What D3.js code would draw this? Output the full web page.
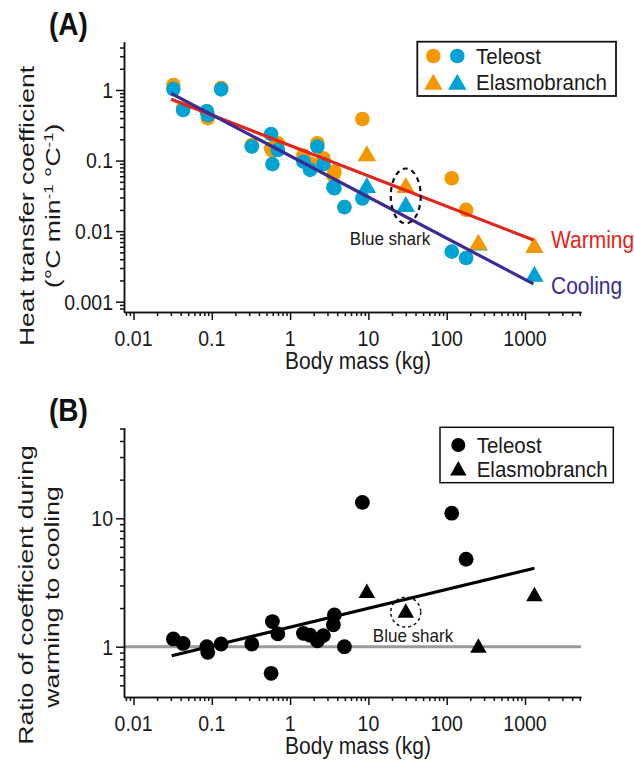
<!DOCTYPE html>
<html><head><meta charset="utf-8">
<script src="https://cdn.jsdelivr.net/npm/d3@7"></script>
<style>body{margin:0;background:#fff} svg{display:block} text{font-family:"Liberation Sans", Arial, Helvetica, sans-serif;}</style>
</head><body><svg id="c" width="634" height="761"></svg>
<script>
// ---------- data ----------
const massTeleost   = [0.0323, 0.043, 0.0863, 0.0889, 0.1315, 0.324, 0.594, 0.572, 0.697, 1.48, 1.80, 2.23, 2.66, 3.68, 3.57, 4.94, 8.38, 116, 177];
const coolTeleost   = [1.03, 0.52, 0.50, 0.44, 1.02, 0.158, 0.089, 0.238, 0.141, 0.0964, 0.0737, 0.158, 0.089, 0.0405, 0.042, 0.0219, 0.029, 0.00513, 0.00416];
const warmTeleost   = [1.18, 0.55, 0.50, 0.40, 1.07, 0.166, 0.139, 0.148, 0.175, 0.118, 0.091, 0.176, 0.108, 0.0697, 0.062, 0.022, 0.388, 0.0561, 0.020];
const ratioTeleost  = [1.15, 1.06, 1.00, 0.905, 1.05, 1.05, 1.57, 0.62, 1.26, 1.27, 1.23, 1.11, 1.22, 1.77, 1.48, 1.00, 13.3, 10.96, 4.8];
const massElasmo    = [9.55, 30.0, 254, 1319];
const warmElasmo    = [0.127, 0.045, 0.00707, 0.00637];
const coolElasmo    = [0.0451, 0.0243, 0.0069, 0.00248];
const ratioElasmo   = [2.73, 1.91, 1.02, 2.57];
const fitMassA      = [0.0302, 1280];
const fitWarm       = [0.738, 0.0075];
const fitCool       = [0.898, 0.00179];
const fitMassB      = [0.0308, 1319];
const fitRatio      = [0.851, 4.08];
const blueSharkIndex = 1;
const xTickValues   = [0.01, 0.1, 1, 10, 100, 1000];
const xTickLabels   = ["0.01", "0.1", "1", "10", "100", "1000"];
const yTickValuesA  = [1, 0.1, 0.01, 0.001];
const yTickLabelsA  = ["1", "0.1", "0.01", "0.001"];
const yTickValuesB  = [1, 10];
const yTickLabelsB  = ["1", "10"];
const legendLabels  = ["Teleost", "Elasmobranch"];

// ---------- setup ----------
const svg = d3.select("#c");
const COL = {orange:"#F39800", blue:"#00A3D3", red:"#E2261C", purple:"#3C2A95", ink:"#1a1a1a", grey:"#9a9a9a"};

function logScale(v1, p1, v2, p2, pMin, pMax){
  const s = d3.scaleLog().domain([v1, v2]).range([p1, p2]);
  return d3.scaleLog().domain([s.invert(pMin), s.invert(pMax)]).range([pMin, pMax]);
}
const x  = logScale(0.01, 133.5, 1000, 525, 124, 581);
const yA = logScale(1, 90, 0.001, 301.7, 312, 41.7);
const yB = logScale(10, 518.3, 1, 646.7, 697, 427.7);

function minorTicks(sc){
  const [a,b] = d3.extent(sc.domain());
  const out = [];
  for(let e=Math.floor(Math.log10(a)); e<=Math.ceil(Math.log10(b)); e++){
    for(let k=2;k<=9;k++){ const v=k*Math.pow(10,e); if(v>a*1.02 && v<=b*1.001) out.push(v); }
  }
  return out;
}
function txt(g, px, py, str, o={}){
  const size=o.size||19.5, sy=o.sy||1.12, sx=o.sx||1, rot=o.rot||0;
  return g.append("text")
    .attr("transform",`translate(${px},${py}) rotate(${rot}) scale(${sx},${sy})`)
    .attr("text-anchor", o.anchor||"middle").attr("dy", o.dy||"0.36em")
    .style("font-size", size+"px").style("font-weight", o.weight||"normal")
    .attr("fill", o.fill||COL.ink).text(str);
}
function triPath(w,h){ return `M0,${-h/2}L${w/2},${h/2}L${-w/2},${h/2}Z`; }
function styleAxis(sel){ sel.selectAll("path,line").attr("stroke","#111").attr("stroke-width",1.5); sel.selectAll("text").remove(); }

function drawAxes(g, y, yVals, yLabs, xAxisY, tickLabelY, titleY){
  g.append("g").attr("transform",`translate(0,${xAxisY})`)
    .call(d3.axisBottom(x).tickValues(minorTicks(x)).tickSize(4).tickSizeOuter(0)).call(styleAxis);
  g.append("g").attr("transform",`translate(0,${xAxisY})`)
    .call(d3.axisBottom(x).tickValues(xTickValues).tickSize(8).tickSizeOuter(0)).call(styleAxis);
  g.append("g").attr("transform",`translate(124,0)`)
    .call(d3.axisLeft(y).tickValues(minorTicks(y)).tickSize(4).tickSizeOuter(0)).call(styleAxis);
  g.append("g").attr("transform",`translate(124,0)`)
    .call(d3.axisLeft(y).tickValues(yVals).tickSize(8).tickSizeOuter(0)).call(styleAxis);
  xTickValues.forEach((v,i)=>txt(g, x(v), tickLabelY, xTickLabels[i]));
  yVals.forEach((v,i)=>txt(g, 113, y(v), yLabs[i], {anchor:"end"}));
  txt(g, 358, titleY, "Body mass (kg)", {size:21});
}

const YT = {size:20, rot:-90, sx:1.33, sy:1};

// ---------- Panel A ----------
const gA = svg.append("g");
drawAxes(gA, yA, yTickValuesA, yTickLabelsA, 312, 338, 361);
txt(gA, 49, 24, "(A)", {anchor:"start", size:28, weight:"bold", fill:"#111"});
txt(gA, 27, 206, "Heat transfer coefficient", YT);
const t2 = txt(gA, 53, 206, "", YT);
t2.append("tspan").text("(°C min");
t2.append("tspan").attr("baseline-shift","super").style("font-size","12.5px").text("-1");
t2.append("tspan").text(" °C");
t2.append("tspan").attr("baseline-shift","super").style("font-size","12.5px").text("-1");
t2.append("tspan").text(")");

const R = 7.3;
gA.append("g").selectAll("circle").data(massTeleost).join("circle")
  .attr("cx",(d)=>x(d)).attr("cy",(d,i)=>yA(warmTeleost[i])).attr("r",R).attr("fill",COL.orange);
gA.append("g").selectAll("circle").data(massTeleost).join("circle")
  .attr("cx",(d)=>x(d)).attr("cy",(d,i)=>yA(coolTeleost[i])).attr("r",R).attr("fill",COL.blue);
gA.append("g").selectAll("path").data(massElasmo).join("path")
  .attr("d",triPath(18.5,16)).attr("transform",(d,i)=>`translate(${x(d)},${yA(coolElasmo[i])})`).attr("fill",COL.blue);
gA.append("g").selectAll("path").data(massElasmo).join("path")
  .attr("d",triPath(18.5,16)).attr("transform",(d,i)=>`translate(${x(d)},${yA(warmElasmo[i])})`).attr("fill",COL.orange);

const lineA = d3.line().x(d=>x(d[0])).y(d=>yA(d[1]));
gA.append("path").attr("d",lineA(d3.zip(fitMassA, fitWarm))).attr("stroke",COL.red).attr("stroke-width",3.2).attr("fill","none");
gA.append("path").attr("d",lineA(d3.zip(fitMassA, fitCool))).attr("stroke",COL.purple).attr("stroke-width",3.2).attr("fill","none");
txt(gA, 551, 240, "Warming", {size:21, anchor:"start", fill:COL.red});
txt(gA, 551, 286, "Cooling", {size:21, anchor:"start", fill:COL.purple});

const bsx = x(massElasmo[blueSharkIndex]);
const bsy = (yA(warmElasmo[blueSharkIndex]) + yA(coolElasmo[blueSharkIndex]))/2;
gA.append("ellipse").attr("cx",bsx).attr("cy",bsy+1.5).attr("rx",15).attr("ry",27.5)
  .attr("fill","none").attr("stroke","#111").attr("stroke-width",2.2).attr("stroke-dasharray","5,4");
txt(gA, 390, 238, "Blue shark", {size:17, sy:1.1});

gA.append("rect").attr("x",417.3).attr("y",41.7).attr("width",198.7).attr("height",54.3)
  .attr("fill","#fff").attr("stroke","#111").attr("stroke-width",1.8);
[COL.orange, COL.blue].forEach((c,k)=>{
  gA.append("circle").attr("cx",433.3+24*k).attr("cy",56).attr("r",R).attr("fill",c);
  gA.append("path").attr("d",triPath(18.5,16)).attr("transform",`translate(${433.3+24*k},81.7)`).attr("fill",c);
});
legendLabels.forEach((l,i)=>txt(gA, 476, 56+25.7*i, l, {size:20.5, anchor:"start"}));

// ---------- Panel B ----------
const gB = svg.append("g");
gB.append("line").attr("x1",124).attr("x2",581).attr("y1",yB(1)).attr("y2",yB(1))
  .attr("stroke",COL.grey).attr("stroke-width",3);
drawAxes(gB, yB, yTickValuesB, yTickLabelsB, 697, 723, 746);
txt(gB, 49, 410, "(B)", {anchor:"start", size:28, weight:"bold", fill:"#111"});
txt(gB, 26, 595, "Ratio of coefficient during", YT);
txt(gB, 52, 597, "warming to cooling", YT);

gB.append("g").selectAll("circle").data(massTeleost).join("circle")
  .attr("cx",d=>x(d)).attr("cy",(d,i)=>yB(ratioTeleost[i])).attr("r",7.4).attr("fill","#000");
gB.append("g").selectAll("path").data(massElasmo).join("path")
  .attr("d",triPath(16.5,14.5)).attr("transform",(d,i)=>`translate(${x(d)},${yB(ratioElasmo[i])})`).attr("fill","#000");
const lineB = d3.line().x(d=>x(d[0])).y(d=>yB(d[1]));
gB.append("path").attr("d",lineB(d3.zip(fitMassB, fitRatio))).attr("stroke","#000").attr("stroke-width",3.2).attr("fill","none");
gB.append("circle").attr("cx",x(massElasmo[blueSharkIndex])).attr("cy",yB(ratioElasmo[blueSharkIndex])+1.5).attr("r",15)
  .attr("fill","none").attr("stroke","#111").attr("stroke-width",1.5).attr("stroke-dasharray","3,3");
txt(gB, 413, 635, "Blue shark", {size:17, sy:1.1});

gB.append("rect").attr("x",440).attr("y",427.3).attr("width",173.3).attr("height",55.4)
  .attr("fill","#fff").attr("stroke","#111").attr("stroke-width",1.5);
gB.append("circle").attr("cx",458.3).attr("cy",445).attr("r",7).attr("fill","#000");
gB.append("path").attr("d",triPath(16.5,14.5)).attr("transform",`translate(458.3,468.3)`).attr("fill","#000");
legendLabels.forEach((l,i)=>txt(gB, 476.7, 445+23.3*i, l, {size:20.5, anchor:"start"}));
</script></body></html>
